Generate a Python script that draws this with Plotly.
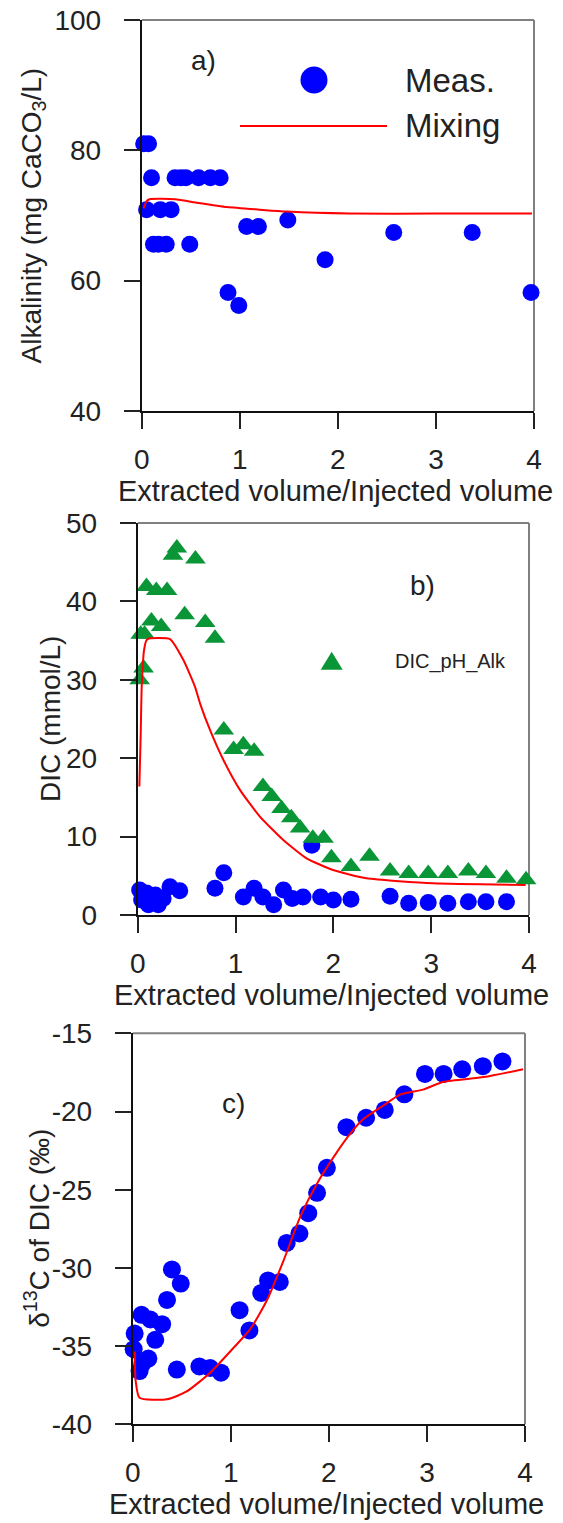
import plotly.graph_objects as go

# ---------------- data ----------------
# panel a: alkalinity
alk_x = [0.02, 0.07, 0.10, 0.05, 0.19, 0.30, 0.12, 0.17, 0.25, 0.49,
         0.34, 0.40, 0.45, 0.58, 0.70, 0.80, 0.88, 0.99, 1.07, 1.19,
         1.49, 1.87, 2.57, 3.37, 3.97]
alk_y = [81.0, 81.0, 75.8, 70.9, 70.9, 70.9, 65.6, 65.6, 65.6, 65.6,
         75.8, 75.8, 75.8, 75.8, 75.8, 75.8, 58.2, 56.2, 68.3, 68.3,
         69.3, 63.2, 67.4, 67.4, 58.2]
mix_a_x = [0.02, 0.05, 0.08, 0.34, 0.55, 0.87, 1.20, 1.48, 2.12, 3.00, 3.98]
mix_a_y = [71.1, 72.2, 72.5, 72.5, 72.0, 71.3, 70.9, 70.6, 70.3, 70.3, 70.3]

# panel b: DIC
dic_x = [0.02, 0.04, 0.09, 0.11, 0.18, 0.21, 0.26, 0.33, 0.43, 0.79,
         0.88, 1.08, 1.19, 1.28, 1.39, 1.49, 1.58, 1.69, 1.78, 1.87,
         2.00, 2.18, 2.58, 2.77, 2.97, 3.17, 3.38, 3.56, 3.77]
dic_y = [3.2, 1.9, 2.8, 1.3, 2.55, 1.3, 2.1, 3.6, 3.1, 3.4,
         5.4, 2.3, 3.4, 2.3, 1.3, 3.2, 2.1, 2.3, 8.9, 2.3,
         1.9, 2.0, 2.4, 1.5, 1.6, 1.5, 1.7, 1.7, 1.7]
tri_x = [0.02, 0.06, 0.03, 0.07, 0.14, 0.24, 0.09, 0.19, 0.30, 0.36,
         0.40, 0.59, 0.48, 0.69, 0.79, 0.88, 0.98, 1.08, 1.19, 1.28,
         1.37, 1.47, 1.57, 1.66, 1.79, 1.90, 1.98, 2.18, 2.37, 2.58,
         2.77, 2.97, 3.17, 3.38, 3.56, 3.77, 3.97]
tri_y = [30.0, 31.5, 35.8, 35.8, 37.5, 36.8, 41.9, 41.4, 41.4, 45.9,
         46.8, 45.4, 38.3, 37.3, 35.3, 23.6, 21.1, 21.7, 20.9, 16.4,
         15.1, 13.6, 12.4, 11.1, 9.8, 9.8, 7.3, 6.2, 7.5, 5.6,
         5.3, 5.3, 5.3, 5.6, 5.3, 4.7, 4.5]
mix_b_x = [0.017, 0.031, 0.041, 0.065, 0.092, 0.126, 0.33, 0.466, 0.586,
           0.637, 0.739, 0.875, 1.045, 1.249, 1.488, 1.726, 1.998, 2.339,
           3.02, 3.966]
mix_b_y = [16.4, 23.2, 29.1, 33.8, 35.1, 35.3, 35.2, 32.55, 29.1,
           27.0, 23.6, 19.8, 15.96, 12.55, 9.57, 7.23, 5.74, 4.68,
           4.04, 3.83]

# panel c: d13C
c_x = [0.02, 0.01, 0.07, 0.10, 0.16, 0.09, 0.18, 0.23, 0.30, 0.35,
       0.40, 0.49, 0.45, 0.68, 0.79, 0.90, 1.09, 1.19, 1.31, 1.38,
       1.50, 1.57, 1.70, 1.79, 1.88, 1.98, 2.18, 2.38, 2.57, 2.77,
       2.98, 3.17, 3.36, 3.57, 3.77]
c_y = [-34.2, -35.2, -36.6, -36.1, -35.8, -33.0, -33.3, -34.6, -33.6, -32.05,
       -30.1, -31.0, -36.5, -36.3, -36.4, -36.7, -32.7, -34.0, -31.6, -30.8,
       -30.9, -28.4, -27.8, -26.5, -25.2, -23.6, -21.0, -20.4, -19.9, -18.9,
       -17.6, -17.6, -17.3, -17.1, -16.8]
mix_c_x = [0.02, 0.03, 0.07, 0.35, 0.55, 0.79, 1.03, 1.20, 1.37, 1.54,
           1.71, 1.88, 2.05, 2.22, 2.35, 2.56, 2.73, 2.96, 3.17, 3.58, 3.98]
mix_c_y = [-35.35, -37.2, -38.3, -38.4, -37.9, -36.7, -35.1, -33.9, -32.05, -29.5,
           -26.7, -24.6, -22.9, -21.4, -20.5, -19.6, -18.9, -18.6, -18.1, -17.8, -17.3]

x_ticks = [0, 1, 2, 3, 4]
a_ticks = [40, 60, 80, 100]
b_ticks = [0, 10, 20, 30, 40, 50]
c_ticks = [-40, -35, -30, -25, -20, -15]
c_ticktext = ["-40", "-35", "-30", "-25", "-20", "-15"]

x_title = "Extracted volume/Injected volume"
a_title = "Alkalinity (mg CaCO<sub>3</sub>/L)"
b_title = "DIC (mmol/L)"
c_title = "\u03b4<sup>13</sup>C of DIC (\u2030)"

BLUE = "#0000FF"
RED = "#FF0000"
GREEN = "#0A9637"
FONT = "Arial, 'Liberation Sans', sans-serif"
TXT = "#222222"

# the page body has an 8px margin; the figure is placed inside it
OX, OY = 8, 8
W, H = 555, 1515


def px2x(px):
    return (px - OX) / W


def py2y(py):
    return 1 - (py - OY) / H


fig = go.Figure()

# panel a
fig.add_trace(go.Scatter(x=alk_x, y=alk_y, mode="markers", name="Meas.",
                         marker=dict(color=BLUE, size=17), cliponaxis=False,
                         xaxis="x", yaxis="y", showlegend=False))
fig.add_trace(go.Scatter(x=mix_a_x, y=mix_a_y, mode="lines", name="Mixing",
                         line=dict(color=RED, width=2, shape="spline", smoothing=0.6),
                         xaxis="x", yaxis="y", showlegend=False))
# panel b
fig.add_trace(go.Scatter(x=dic_x, y=dic_y, mode="markers", name="DIC",
                         marker=dict(color=BLUE, size=17), cliponaxis=False,
                         xaxis="x2", yaxis="y2", showlegend=False))
fig.add_trace(go.Scatter(x=tri_x, y=tri_y, mode="markers", name="DIC_pH_Alk",
                         marker=dict(color=GREEN, size=18, symbol="triangle-up"),
                         cliponaxis=False, xaxis="x2", yaxis="y2", showlegend=False))
fig.add_trace(go.Scatter(x=mix_b_x, y=mix_b_y, mode="lines", name="Mixing",
                         line=dict(color=RED, width=2, shape="spline", smoothing=0.5),
                         xaxis="x2", yaxis="y2", showlegend=False))
# panel c
fig.add_trace(go.Scatter(x=c_x, y=c_y, mode="markers", name="d13C",
                         marker=dict(color=BLUE, size=18), cliponaxis=False,
                         xaxis="x3", yaxis="y3", showlegend=False))
fig.add_trace(go.Scatter(x=mix_c_x, y=mix_c_y, mode="lines", name="Mixing",
                         line=dict(color=RED, width=2, shape="spline", smoothing=0.6),
                         xaxis="x3", yaxis="y3", showlegend=False))

# panel pixel boxes in the page (left, right, top, bottom)
boxes = {
    "a": (141.7, 534.0, 20.0, 411.0),
    "b": (137.7, 529.0, 523.0, 915.0),
    "c": (132.7, 525.0, 1033.3, 1424.3),
}

axis_common = dict(showline=True, linecolor="#111111", linewidth=2,
                   ticks="outside", ticklen=16, tickwidth=2, tickcolor="#222222",
                   showgrid=False, zeroline=False, automargin=False,
                   ticklabeloverflow="allow",
                   tickfont=dict(family=FONT, size=28, color=TXT))

layout = dict(width=W, height=H, margin=dict(l=0, r=0, t=0, b=0, autoexpand=False),
              paper_bgcolor="white", plot_bgcolor="white",
              font=dict(family=FONT, color=TXT), showlegend=False)

for key, xa, ya, yticks, ytext, yr in [
    ("a", "xaxis", "yaxis", a_ticks, [str(v) for v in a_ticks], [40, 100]),
    ("b", "xaxis2", "yaxis2", b_ticks, [str(v) for v in b_ticks], [0, 50]),
    ("c", "xaxis3", "yaxis3", c_ticks, c_ticktext, [-40, -15]),
]:
    b = boxes[key]
    xid = "x" if xa == "xaxis" else "x" + xa[-1]
    yid = "y" if ya == "yaxis" else "y" + ya[-1]
    layout[xa] = dict(axis_common, domain=[px2x(b[0]), px2x(b[1])], range=[0, 4],
                      anchor=yid, tickvals=x_ticks,
                      ticktext=[str(v) for v in x_ticks], ticklabelstandoff=6)
    layout[ya] = dict(axis_common, domain=[py2y(b[3]), py2y(b[2])], range=yr,
                      anchor=xid, tickvals=yticks, ticktext=ytext,
                      ticklabelstandoff=17)

fig.update_layout(**layout)

# grey frame (top and right edges)
shapes = []
for xid, yid in [("x", "y"), ("x2", "y2"), ("x3", "y3")]:
    shapes.append(dict(type="line", xref=f"{xid} domain", yref=f"{yid} domain",
                       x0=0, x1=1, y0=1, y1=1, line=dict(color="#808080", width=2),
                       layer="below"))
    shapes.append(dict(type="line", xref=f"{xid} domain", yref=f"{yid} domain",
                       x0=1, x1=1, y0=0, y1=1, line=dict(color="#808080", width=2),
                       layer="below"))

# legend glyphs, panel a
shapes.append(dict(type="circle", xref="x domain", yref="y domain",
                   xsizemode="pixel", ysizemode="pixel",
                   xanchor=0.4392, yanchor=0.8465,
                   x0=-13.5, x1=13.5, y0=-13.5, y1=13.5,
                   fillcolor=BLUE, line=dict(width=0)))
shapes.append(dict(type="line", xref="x domain", yref="y domain",
                   x0=0.2506, x1=0.6253, y0=0.7289, y1=0.7289,
                   line=dict(color=RED, width=2)))
# legend glyph, panel b
shapes.append(dict(type="path", xref="x2 domain", yref="y2 domain",
                   xsizemode="pixel", ysizemode="pixel",
                   xanchor=0.4958, yanchor=0.6462,
                   path="M-11,-8 L11,-8 L0,10 Z",
                   fillcolor=GREEN, line=dict(width=0)))
fig.update_layout(shapes=shapes)

ann = []
# legend texts
ann.append(dict(text="Meas.", xref="x domain", yref="y domain", x=0.666, y=0.8465,
                xanchor="left", yanchor="middle", showarrow=False,
                font=dict(family=FONT, size=33, color=TXT)))
ann.append(dict(text="Mixing", xref="x domain", yref="y domain", x=0.666, y=0.7302,
                xanchor="left", yanchor="middle", showarrow=False,
                font=dict(family=FONT, size=33, color=TXT)))
ann.append(dict(text="DIC_pH_Alk", xref="x2 domain", yref="y2 domain", x=0.6517,
                y=0.6462, xanchor="left", yanchor="middle", showarrow=False,
                font=dict(family=FONT, size=20, color=TXT)))
# panel labels
for txt, px, py in [("a)", 203, 61), ("b)", 422.5, 585), ("c)", 233, 1103)]:
    ann.append(dict(text=txt, xref="paper", yref="paper", x=px2x(px), y=py2y(py),
                    xanchor="center", yanchor="middle", showarrow=False,
                    font=dict(family=FONT, size=28, color=TXT)))
# axis titles
for key, ty in [("a", 491), ("b", 995), ("c", 1504)]:
    b = boxes[key]
    ann.append(dict(text=x_title, xref="paper", yref="paper",
                    x=px2x((b[0] + b[1]) / 2 - 2), y=py2y(ty),
                    xanchor="center", yanchor="middle", showarrow=False,
                    font=dict(family=FONT, size=29, color=TXT)))
for key, title, tx in [("a", a_title, 33), ("b", b_title, 50), ("c", c_title, 37)]:
    b = boxes[key]
    ann.append(dict(text=title, xref="paper", yref="paper", x=px2x(tx),
                    y=py2y((b[2] + b[3]) / 2), textangle=-90,
                    xanchor="center", yanchor="middle", showarrow=False,
                    font=dict(family=FONT, size=28, color=TXT)))
fig.update_layout(annotations=ann)

fig.write_html("out.html")
